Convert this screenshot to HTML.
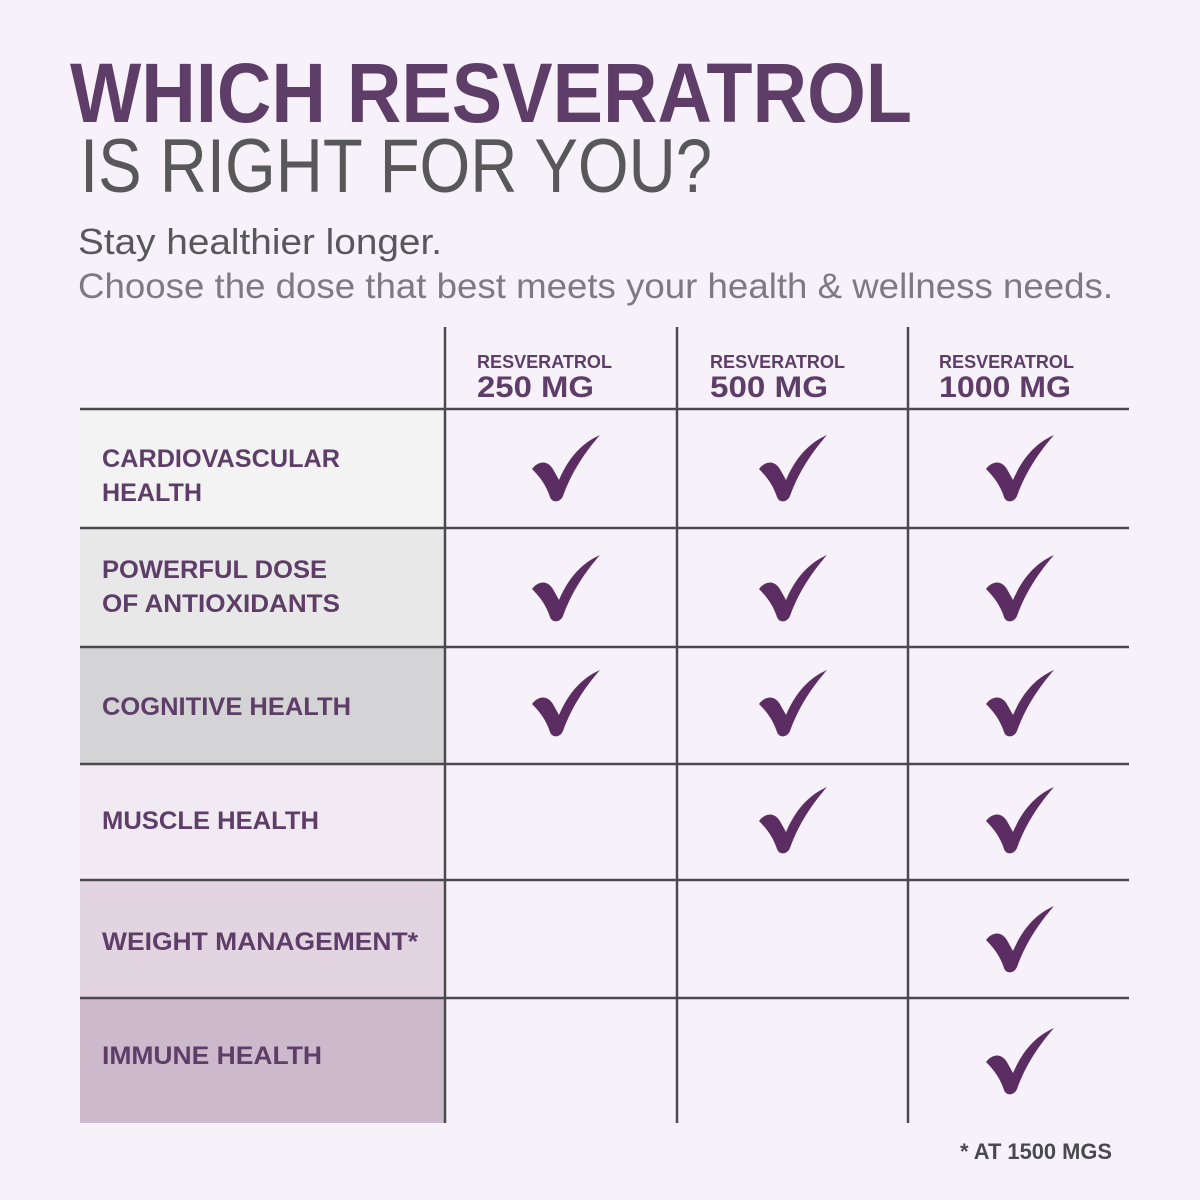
<!DOCTYPE html>
<html><head><meta charset="utf-8"><style>html,body{margin:0;padding:0;background:#f7f2f9}svg{display:block}</style></head>
<body>
<svg width="1200" height="1200" viewBox="0 0 1200 1200" xmlns="http://www.w3.org/2000/svg" font-family="Liberation Sans, sans-serif">
<defs>
<path id="ck" d="M0,34 C6,26 16,24 22,36 L27,45 C37,22 50,8 68,0 C54,16 40,36 31,61 C28,68 20,68 18,62 C14,50 8,42 0,34 Z" fill="#5c2d62"/>
</defs>
<rect width="1200" height="1200" fill="#f7f2f9"/>
<text x="70" y="122" font-size="84" font-weight="bold" fill="#5e3e68" textLength="842" lengthAdjust="spacingAndGlyphs">WHICH RESVERATROL</text>
<text x="80" y="192" font-size="76" fill="#58585a" textLength="632" lengthAdjust="spacingAndGlyphs">IS RIGHT FOR YOU?</text>
<text x="78" y="254" font-size="36" fill="#58585a" textLength="364" lengthAdjust="spacingAndGlyphs">Stay healthier longer.</text>
<text x="78" y="298" font-size="35" fill="#7d7a80" textLength="1035" lengthAdjust="spacingAndGlyphs">Choose the dose that best meets your health &amp; wellness needs.</text>
<!-- left fills -->
<rect x="80" y="409" width="365" height="119" fill="#f3f3f3"/>
<rect x="80" y="528" width="365" height="119" fill="#e8e8e9"/>
<rect x="80" y="647" width="365" height="117" fill="#d4d4d6"/>
<rect x="80" y="764" width="365" height="116" fill="#f2eaf2"/>
<rect x="80" y="880" width="365" height="118" fill="#e2d4e0"/>
<rect x="80" y="998" width="365" height="125" fill="#cdb9cc"/>
<!-- lines -->
<g stroke="#4a4a4e" stroke-width="2.5">
<line x1="80" y1="409" x2="1129" y2="409"/>
<line x1="80" y1="528" x2="1129" y2="528"/>
<line x1="80" y1="647" x2="1129" y2="647"/>
<line x1="80" y1="764" x2="1129" y2="764"/>
<line x1="80" y1="880" x2="1129" y2="880"/>
<line x1="80" y1="998" x2="1129" y2="998"/>
<line x1="445" y1="327" x2="445" y2="1123"/>
<line x1="677" y1="327" x2="677" y2="1123"/>
<line x1="908" y1="327" x2="908" y2="1123"/>
</g>
<!-- headers -->
<g fill="#5e3e68" font-weight="bold">
<text x="477" y="368" font-size="18" textLength="135" lengthAdjust="spacingAndGlyphs">RESVERATROL</text>
<text x="477" y="397" font-size="30" textLength="117" lengthAdjust="spacingAndGlyphs">250 MG</text>
<text x="710" y="368" font-size="18" textLength="135" lengthAdjust="spacingAndGlyphs">RESVERATROL</text>
<text x="710" y="397" font-size="30" textLength="118" lengthAdjust="spacingAndGlyphs">500 MG</text>
<text x="939" y="368" font-size="18" textLength="135" lengthAdjust="spacingAndGlyphs">RESVERATROL</text>
<text x="939" y="397" font-size="30" textLength="132" lengthAdjust="spacingAndGlyphs">1000 MG</text>
</g>
<!-- row labels -->
<g fill="#5e3e68" font-weight="bold" font-size="25">
<text x="102" y="467" textLength="238" lengthAdjust="spacingAndGlyphs">CARDIOVASCULAR</text>
<text x="102" y="501" textLength="100" lengthAdjust="spacingAndGlyphs">HEALTH</text>
<text x="102" y="578" textLength="225" lengthAdjust="spacingAndGlyphs">POWERFUL DOSE</text>
<text x="102" y="612" textLength="238" lengthAdjust="spacingAndGlyphs">OF ANTIOXIDANTS</text>
<text x="102" y="715" textLength="249" lengthAdjust="spacingAndGlyphs">COGNITIVE HEALTH</text>
<text x="102" y="829" textLength="217" lengthAdjust="spacingAndGlyphs">MUSCLE HEALTH</text>
<text x="102" y="950" textLength="316" lengthAdjust="spacingAndGlyphs">WEIGHT MANAGEMENT*</text>
<text x="102" y="1064" textLength="220" lengthAdjust="spacingAndGlyphs">IMMUNE HEALTH</text>
</g>
<text x="960" y="1159" font-size="22" font-weight="bold" fill="#4a4a4e" textLength="152" lengthAdjust="spacingAndGlyphs">* AT 1500 MGS</text>
<!-- checks -->
<use href="#ck" x="532" y="435"/><use href="#ck" x="759" y="435"/><use href="#ck" x="986" y="435"/>
<use href="#ck" x="532" y="555"/><use href="#ck" x="759" y="555"/><use href="#ck" x="986" y="555"/>
<use href="#ck" x="532" y="670"/><use href="#ck" x="759" y="670"/><use href="#ck" x="986" y="670"/>
<use href="#ck" x="759" y="787"/><use href="#ck" x="986" y="787"/>
<use href="#ck" x="986" y="906"/>
<use href="#ck" x="986" y="1028"/>
</svg>
</body></html>
